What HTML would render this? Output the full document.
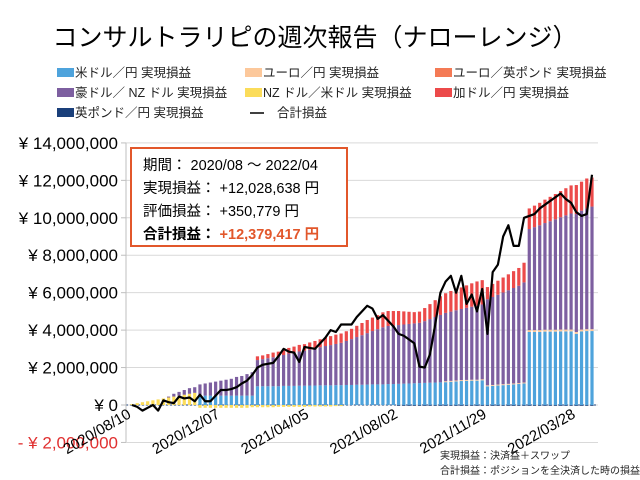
<!DOCTYPE html>
<html><head><meta charset="utf-8">
<style>
html,body{margin:0;padding:0;background:#fff;}
body{width:640px;height:480px;overflow:hidden;position:relative;font-family:"Liberation Sans","Noto Sans CJK JP",sans-serif;}
svg{position:absolute;left:0;top:0;}
</style></head>
<body>
<svg id="chart" width="640" height="480" viewBox="0 0 640 480" xmlns="http://www.w3.org/2000/svg" font-family="Liberation Sans, Noto Sans CJK JP, sans-serif">
<text x="315" y="46" text-anchor="middle" font-size="25" fill="#000">コンサルトラリピの週次報告（ナローレンジ）</text>
<g id="legend" font-size="12.5" fill="#222"></g>
<g id="grid"></g>
<g id="bars"></g>
<g id="line"></g>
<g id="yaxis" font-size="17"></g>
<g id="xaxis" font-size="15"></g>
<g>
<rect x="131" y="148" width="216" height="98" fill="#fff" stroke="#e2572b" stroke-width="2"/>
<text x="143" y="170" font-size="14.5" fill="#000">期間： 2020/08 ～ 2022/04</text>
<text x="143" y="193" font-size="14.5" fill="#000">実現損益： +12,028,638 円</text>
<text x="143" y="216" font-size="14.5" fill="#000">評価損益： +350,779 円</text>
<text x="143" y="239" font-size="14.5" font-weight="bold" fill="#000">合計損益： <tspan fill="#e2572b">+12,379,417 円</tspan></text>
</g>
<text x="440" y="459" font-size="10" fill="#222">実現損益：決済益＋スワップ</text>
<text x="440" y="474" font-size="10" fill="#222">合計損益：ポジションを全決済した時の損益</text>
</svg>
<script>
const xTickLabels = ["2020/08/10","2020/12/07","2021/04/05","2021/08/02","2021/11/29","2022/03/28"];
const xTickWeeks = [0,17,34,51,68,85];
const yTicks = [-2,0,2,4,6,8,10,12,14];
const yTickLabels = ["- ¥ 2,000,000","¥ 0","¥ 2,000,000","¥ 4,000,000","¥ 6,000,000","¥ 8,000,000","¥ 10,000,000","¥ 12,000,000","¥ 14,000,000"];
const usdjpy = [0,0,0,0,0,0,0,0,0,0,0,0,0,
0.5,0.5,0.5,0.5,0.5,0.5,0.5,0.5,0.5,0.5,0.5,
1.0,1.0,1.0,1.0,1.0,1.02,1.02,1.02,1.03,1.03,
1.04,1.04,1.05,1.05,1.05,1.06,1.06,1.07,1.07,1.08,
1.08,1.09,1.1,1.1,1.1,1.12,1.12,1.13,1.14,1.15,
1.16,1.17,1.18,1.19,1.2,1.21,1.22,1.24,1.26,1.28,
1.29,1.3,1.3,1.32,
1.0,1.02,1.04,1.06,1.08,1.1,1.12,1.15,
3.9,3.9,3.9,3.92,3.92,3.92,3.93,3.93,3.93,3.8,3.93,3.95,3.95];
const audnzd = [0,0,0,0,0,0,0,0.05,0.15,0.2,0.25,0.3,0.3,
0.6,0.65,0.7,0.75,0.8,0.85,0.9,1.0,1.05,1.15,1.25,
1.4,1.45,1.5,1.55,1.6,1.65,1.73,1.78,1.83,1.87,
1.92,1.98,2.04,2.1,2.15,2.2,2.26,2.35,2.45,2.55,
2.65,2.75,2.85,2.95,3.05,3.1,3.12,3.14,3.16,3.18,
3.2,3.22,3.3,3.4,3.5,3.6,3.65,3.7,3.75,3.8,
3.85,3.9,3.95,4.0,
4.6,4.7,4.8,4.9,5.0,5.1,5.2,5.35,
5.4,5.5,5.6,5.7,5.8,5.9,6.0,6.1,6.2,6.3,6.35,6.45,6.55];
const cadjpy = [0,0,0,0,0,0,0,0,0,0,0,0,0,0,0,0,0,0,0,0,0,0,0,0,
0.2,0.2,0.22,0.25,0.25,0.28,0.3,0.32,0.35,0.35,
0.38,0.4,0.42,0.45,0.48,0.5,0.5,0.52,0.55,0.6,
0.65,0.7,0.72,0.75,0.8,0.8,0.78,0.75,0.7,0.65,
0.6,0.6,0.7,0.8,0.9,1.0,1.05,1.1,1.1,1.15,
1.2,1.25,1.3,1.3,
0.65,0.7,0.75,0.8,0.85,0.9,0.95,1.05,
1.1,1.15,1.2,1.25,1.3,1.35,1.4,1.45,1.5,1.55,1.55,1.6,1.55];
const nzdusd = [0.05,0.1,0.15,0.2,0.25,0.3,0.35,0.4,0.45,0.5,0.55,0.6,0.65,
-0.15,-0.15,-0.15,-0.15,-0.15,-0.15,-0.15,-0.15,-0.15,-0.15,-0.12,-0.12,-0.12,-0.12,-0.12,-0.1,-0.1,-0.1,-0.1,-0.1,-0.1,-0.08,-0.08,-0.08,-0.08,-0.08,-0.06,-0.06,
0,0,0,0,0,0,0,0,0,0,0,0,0,0,0,0,0,0,0,0,0,0,0,0,0,0,0,0,0,0,0,0,0,0,0,0,0,0,0,0,0,0,0,0,0,0,0,0];
const eurjpy = [0,0,0,0,0,0,0,0,0,0,0,0,0,0,0,0,0,0,0,0,0,0,0,0,0,0,0,0,0,0,0,0,0,0,0,0,0,0,0,0,0,0,0,0,0,0,0,0,0,0,0,0,0,0,0,0,0,0,0,0,
0.05,0.05,0.05,0.05,0.05,0.05,0.05,0.05,0.05,0.05,0.05,0.05,0.05,0.05,0.05,0.05,
0.1,0.1,0.1,0.1,0.1,0.1,0.1,0.1,0.1,0.1,0.1,0.1,0.1];
const gbpjpy = [0,0,0,0,0,0,0,0,0,0,0,0,0,0,0,0,0,0,0,0,0,0,0,0,0,0,0,0,0,0,0,0,0,0,0,0,0,0,0,0,0,0,0,0,0,0,0,0,0,0,0,
-0.04,-0.04,-0.04,-0.04,-0.04,-0.04,-0.04,-0.04,-0.04,-0.04,-0.04,-0.04,-0.04,-0.04,-0.04,-0.04,-0.04,-0.04,-0.04,-0.04,-0.04,-0.04,-0.04,-0.04,-0.04,-0.04,-0.04,-0.04,-0.04,-0.04,-0.04,-0.04,-0.04,-0.04,-0.04,-0.04,-0.04,-0.04];
const totalPL = [0,-0.1,-0.3,-0.15,0,-0.3,0.25,0.15,0.1,0.45,0.35,0.4,0.2,0.55,0.2,0.2,0.5,0.8,0.8,0.85,
0.95,1.15,1.3,1.6,2.0,2.15,2.2,2.25,2.6,3.0,2.85,2.8,2.3,3.1,3.05,3.0,3.3,3.6,4.0,3.9,
4.3,4.3,4.3,4.7,5.0,5.3,5.15,4.6,4.8,4.5,4.2,3.8,3.7,3.5,3.3,2.05,2.0,2.7,4.3,6.0,
6.6,6.9,6.0,6.9,5.4,5.9,5.0,6.2,3.8,7.1,7.5,9.0,9.6,8.5,8.5,10.0,10.1,10.2,10.5,10.7,
10.9,11.1,11.3,11.0,10.8,10.3,10.1,10.2,12.3];

const NS="http://www.w3.org/2000/svg";
function mk(tag,attrs,parent){const e=document.createElementNS(NS,tag);for(const k in attrs)e.setAttribute(k,attrs[k]);parent.appendChild(e);return e;}
const X0=132, X1=592, Y0=405, PPM=18.72;
const nWeeks = totalPL.length;
function xs(i){return X0+(X1-X0)*i/(nWeeks-1);}
function ys(v){return Y0-v*PPM;}

const grid=document.getElementById('grid');
const yax=document.getElementById('yaxis');
yTicks.forEach((t,i)=>{
  const g=mk('line',{x1:126,x2:598,y1:ys(t),y2:ys(t),stroke:'#d9d9d9','stroke-width':1},grid);
  
  
  const tk=mk('line',{x1:121,x2:126,y1:ys(t),y2:ys(t),stroke:'#bfbfbf'},yax);
  
  
  const tx=mk('text',{x:118,y:ys(t)+6,'text-anchor':'end',fill:t<0?'#e03030':'#000'},yax);
  
  
  tx.textContent=yTickLabels[i];
});
const ax=mk('line',{x1:126,x2:126,y1:ys(14),y2:ys(-2),stroke:'#bfbfbf'},yax);



const bars=document.getElementById('bars');
const series=[[usdjpy,'#4ea3dc'],[eurjpy,'#fcc89b'],[nzdusd,'#fbdc5a'],[audnzd,'#7d5fa0'],[cadjpy,'#ec4a4a'],[gbpjpy,'#1a3f7a']];
for(let i=0;i<nWeeks;i++){
  let pos=0,neg=0;
  series.forEach(([arr,col])=>{
    const v=arr[i]||0; if(!v) return;
    let a,b; if(v>0){a=pos;b=pos+v;pos=b;}else{a=neg;b=neg+v;neg=b;}
    const r=mk('rect',{x:xs(i)-1.6,y:Math.min(ys(a),ys(b)),width:3.2,height:Math.max(0.8,Math.abs(ys(a)-ys(b))),fill:col},bars);
    
    
  });
}
const zl=mk('line',{x1:126,x2:598,y1:Y0,y2:Y0,stroke:'#1a3f7a','stroke-width':1,'stroke-dasharray':'2,2'},grid);



const line=document.getElementById('line');
const pl=mk('polyline',{points:totalPL.map((v,i)=>xs(i)+','+ys(v)).join(' '),fill:'none',stroke:'#000','stroke-width':2.2,'stroke-linejoin':'round'},line);



const xax=document.getElementById('xaxis');
const xl=mk('line',{x1:126,x2:598,y1:ys(-2),y2:ys(-2),stroke:'#d9d9d9'},xax);


xTickLabels.forEach((lab,i)=>{
  const x=xs(xTickWeeks[i]);
  const t=mk('text',{x:x,y:417,'text-anchor':'end',transform:'rotate(-30 '+x+' 417)',fill:'#000'},xax);
  
  
  t.textContent=lab;
});

const legendItems=[["米ドル／円 実現損益",'#4ea3dc',57,77],["ユーロ／円 実現損益",'#fcc89b',245,77],["ユーロ／英ポンド 実現損益",'#f47a55',435,77],
["豪ドル／ NZ ドル 実現損益",'#7d5fa0',57,97],["NZ ドル／米ドル 実現損益",'#fbdc5a',245,97],["加ドル／円 実現損益",'#ec4a4a',435,97],
["英ポンド／円 実現損益",'#1a3f7a',57,117]];
const leg=document.getElementById('legend');
legendItems.forEach(([lab,col,x,y])=>{
  const r=mk('rect',{x:x,y:y-9,width:17,height:9,fill:col},leg);
  
  
  const t=mk('text',{x:x+18,y:y,'font-size':12.5},leg);
  
  
  t.textContent=lab;
});
const ll=mk('line',{x1:250,x2:264,y1:113,y2:113,stroke:'#000','stroke-width':1.5},leg);


const lt=mk('text',{x:277,y:117,'font-size':12.5},leg);


lt.textContent="合計損益";
</script>
</body></html>
